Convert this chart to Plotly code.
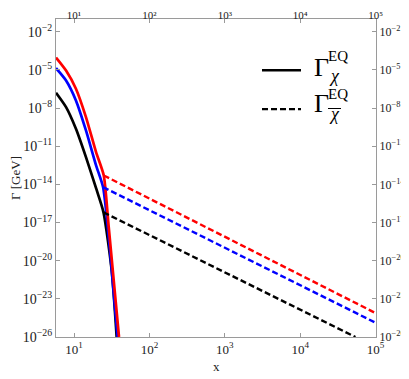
import plotly.graph_objects as go

# solid curves: x and log10(Gamma / GeV)
x_red = [5.77, 7.84, 10.6, 14.4, 19.6, 24.8, 28.7, 39.5]
lg_red = [-4.03, -5.05, -6.48, -8.71, -11.47, -13.3, -17.2, -26.0]

x_blue = [5.77, 7.84, 10.6, 14.4, 19.6, 24.3, 30.0, 37.8]
lg_blue = [-4.86, -5.83, -7.4, -9.76, -12.5, -14.22, -19.19, -26.0]

x_black = [5.77, 7.84, 10.6, 14.4, 19.6, 24.6, 31.6, 36.8]
lg_black = [-6.8, -7.93, -9.63, -11.86, -14.3, -16.2, -20.77, -26.0]

# dashed (anti-particle) branches
xd_red = [24.8, 1e5]
lgd_red = [-13.3, -24.12]
xd_blue = [24.3, 1e5]
lgd_blue = [-14.22, -24.88]
xd_black = [24.6, 5.4e4]
lgd_black = [-16.2, -26.0]

# tick positions / labels
x_exps = [1, 2, 3, 4, 5]
y_exps = [-26, -23, -20, -17, -14, -11, -8, -5, -2]

COLORS = {"red": "#ff0000", "blue": "#0000ff", "black": "#000000"}
FONT = "Liberation Serif, Times New Roman, serif"
FRAME = "#9a9a9a"
SUP = str.maketrans("0123456789-", "⁰¹²³⁴⁵⁶⁷⁸⁹⁻")


def gev(lg):
    return [10 ** v for v in lg]


def pow_label(e):
    return "10<sup>" + str(e).replace("-", "−") + "</sup>"


def pow_label_flat(e):
    # unicode superscripts: keeps the top labels inside the short top margin
    return "10" + str(e).translate(SUP)


fig = go.Figure()

for xs, lg, c in [(x_black, lg_black, "black"), (x_blue, lg_blue, "blue"), (x_red, lg_red, "red")]:
    fig.add_trace(go.Scatter(
        x=xs, y=gev(lg), mode="lines", showlegend=False,
        line=dict(color=COLORS[c], width=2.7, shape="spline", smoothing=0.6),
    ))

for xs, lg, c in [(xd_black, lgd_black, "black"), (xd_blue, lgd_blue, "blue"), (xd_red, lgd_red, "red")]:
    fig.add_trace(go.Scatter(
        x=xs, y=gev(lg), mode="lines", showlegend=False,
        line=dict(color=COLORS[c], width=2.4, dash="6px,3px"),
    ))

# invisible trace so the mirrored top/right axes get drawn
fig.add_trace(go.Scatter(x=[10], y=[1e-10], xaxis="x2", yaxis="y2",
                         mode="markers", marker=dict(opacity=0), showlegend=False,
                         hoverinfo="skip"))

XR = [0.761, 5.005]
YR = [-26, -1]
xvals = [10 ** e for e in x_exps]
yt = dict(tickvals=[10 ** e for e in y_exps], ticktext=[pow_label(e) for e in y_exps])
tick_common = dict(type="log", ticks="inside", ticklen=4, tickcolor=FRAME,
                   showgrid=False, zeroline=False, showline=True, automargin=False,
                   linecolor=FRAME, linewidth=1.2)

# the page body adds an 8px offset, so the figure is 8px smaller than the window
fig.update_layout(
    width=401, height=371,
    paper_bgcolor="white", plot_bgcolor="white",
    font=dict(family=FONT, color="#222"),
    margin=dict(l=48, r=33, t=11, b=42),
    xaxis=dict(range=XR, tickfont=dict(size=13), tickvals=xvals,
               ticktext=[pow_label(e) for e in x_exps], **tick_common),
    yaxis=dict(range=YR, tickfont=dict(size=14),
               title=dict(text="Γ [GeV]", font=dict(size=13), standoff=20), **yt, **tick_common),
    xaxis2=dict(range=XR, overlaying="x", side="top", anchor="y",
                tickfont=dict(size=11), tickvals=xvals,
                ticktext=[pow_label_flat(e) for e in x_exps],
                ticklabelstandoff=-5, **tick_common),
    yaxis2=dict(range=YR, overlaying="y", side="right", anchor="x",
                tickfont=dict(size=12), **yt, **tick_common),
)


def px_x(p):
    return (p - 56) / 320


def px_y(p):
    return (337 - p) / 318.3


# x axis title
fig.add_annotation(text="x", x=0.5, y=px_y(367), xref="paper", yref="paper",
                   xanchor="center", yanchor="middle", showarrow=False,
                   font=dict(size=13, family=FONT, color="#222"))

# hand-made legend (stacked sub/superscripts are not possible in the plotly legend)
fig.add_shape(type="line", xref="paper", yref="paper",
              x0=px_x(262), x1=px_x(301), y0=px_y(70), y1=px_y(70),
              line=dict(color="black", width=2.4))
fig.add_shape(type="line", xref="paper", yref="paper",
              x0=px_x(262), x1=px_x(301), y0=px_y(109), y1=px_y(109),
              line=dict(color="black", width=2.2, dash="6px,3px"))

for cy, eq_y, chi_y in [(67, 55.5, 76), (103.5, 94, 114)]:
    fig.add_annotation(text="Γ", x=px_x(312), y=px_y(cy), xref="paper", yref="paper",
                       xanchor="left", yanchor="middle", showarrow=False,
                       font=dict(size=26, family=FONT, color="black"))
    fig.add_annotation(text="EQ", x=px_x(326), y=px_y(eq_y), xref="paper", yref="paper",
                       xanchor="left", yanchor="middle", showarrow=False,
                       font=dict(size=15, family=FONT, color="black"))
    fig.add_annotation(text="<i>χ</i>", x=px_x(327), y=px_y(chi_y),
                       xref="paper", yref="paper", xanchor="left", yanchor="middle",
                       showarrow=False, font=dict(size=18, family=FONT, color="black"))

# bar over the second chi
fig.add_shape(type="line", xref="paper", yref="paper",
              x0=px_x(328), x1=px_x(341), y0=px_y(108.3), y1=px_y(108.3),
              line=dict(color="black", width=1))

fig.write_html("out.html")
